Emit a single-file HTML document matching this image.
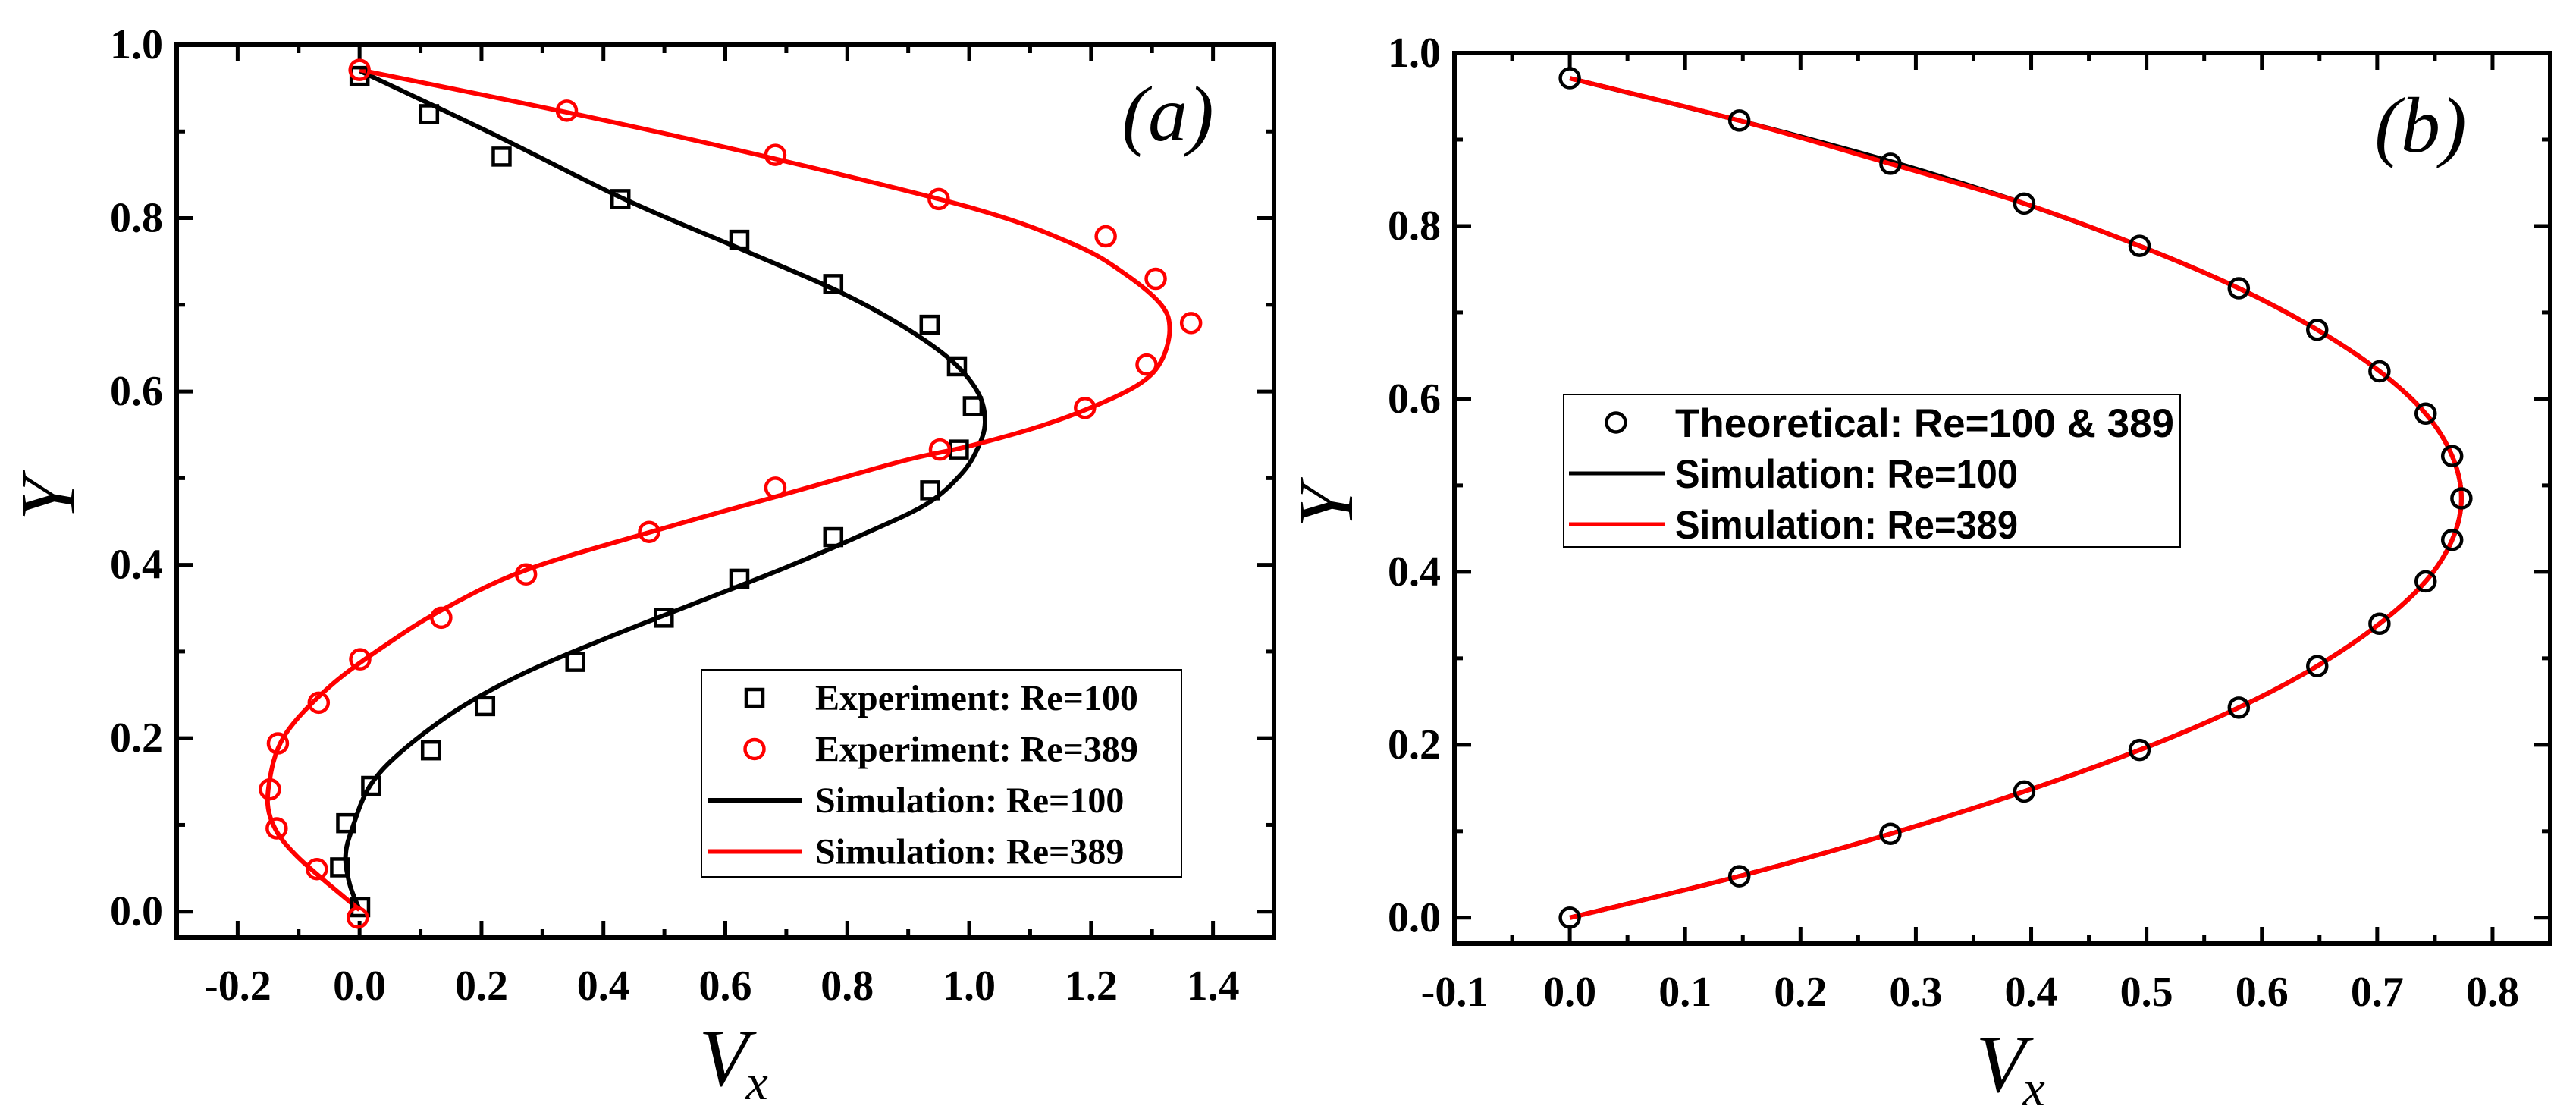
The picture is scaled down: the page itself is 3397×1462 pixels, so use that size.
<!DOCTYPE html>
<html><head><meta charset="utf-8"><style>
html,body{margin:0;padding:0;background:#fff;}
svg{display:block;}
text{font-family:"Liberation Serif",serif;}
text.sans{font-family:"Liberation Sans",sans-serif;}
</style></head>
<body>
<svg id="fig" xmlns="http://www.w3.org/2000/svg" width="3397" height="1462" viewBox="0 0 3397 1462">
<rect x="0" y="0" width="3397" height="1462" fill="#fff"/>
<g id="pa"></g>
<g id="pb"></g>
</svg>
<script>
// ---- Panel (a) data ----
const aExp100X=[0,0.114,0.233,0.428,0.623,0.777,0.935,0.98,1.006,0.983,0.936,0.777,0.623,0.499,0.354,0.206,0.117,0.019,-0.022,-0.032,0.001];
const aExp100Y=[0.964,0.92,0.871,0.822,0.775,0.724,0.677,0.629,0.583,0.533,0.486,0.432,0.384,0.339,0.288,0.237,0.186,0.145,0.102,0.051,0.005];
const aExp389X=[0,0.34,0.682,0.95,1.224,1.306,1.364,1.291,1.19,0.952,0.682,0.475,0.273,0.134,0.001,-0.067,-0.134,-0.147,-0.136,-0.07,-0.003];
const aExp389Y=[0.971,0.924,0.873,0.822,0.779,0.73,0.679,0.631,0.581,0.533,0.489,0.438,0.389,0.339,0.291,0.241,0.194,0.141,0.096,0.049,-0.007];
const aSim100X=[0,0.219,0.434,0.623,0.784,0.892,0.972,1.015,1.026,1.013,0.986,0.932,0.838,0.703,0.555,0.407,0.273,0.165,0.071,0.017,-0.012,-0.023,-0.016,0];
const aSim100Y=[0.97,0.897,0.822,0.765,0.716,0.675,0.635,0.598,0.564,0.533,0.504,0.471,0.439,0.398,0.357,0.316,0.276,0.235,0.186,0.145,0.096,0.064,0.031,0.002];
const aSim389X=[0,0.354,0.69,1.013,1.174,1.255,1.315,1.329,1.315,1.282,1.215,1.121,1.0,0.892,0.69,0.488,0.273,0.138,0.044,-0.05,-0.124,-0.149,-0.144,-0.103,0];
const aSim389Y=[0.971,0.92,0.867,0.81,0.769,0.736,0.7,0.671,0.635,0.61,0.586,0.561,0.537,0.52,0.48,0.44,0.394,0.349,0.308,0.259,0.202,0.145,0.104,0.064,0.002];
const aXTicks=["-0.2","0.0","0.2","0.4","0.6","0.8","1.0","1.2","1.4"];
const aYTicks=["0.0","0.2","0.4","0.6","0.8","1.0"];
// ---- Panel (b) data ----
const bTheoX=[0,0.147,0.278,0.394,0.494,0.58,0.648,0.702,0.742,0.765,0.773,0.765,0.742,0.702,0.648,0.58,0.494,0.394,0.278,0.147,0];
const bTheoY=[0.971,0.922,0.872,0.826,0.777,0.728,0.68,0.632,0.583,0.534,0.485,0.437,0.389,0.34,0.291,0.243,0.194,0.146,0.097,0.048,0];
const bSim100X=[0,0.147,0.28,0.394,0.494,0.58,0.648,0.702,0.742,0.765,0.773,0.765,0.742,0.702,0.648,0.58,0.494,0.394,0.278,0.147,0];
const bSim100Y=[0.971,0.922,0.874,0.826,0.777,0.728,0.68,0.632,0.583,0.534,0.485,0.437,0.389,0.34,0.291,0.243,0.194,0.146,0.097,0.048,0];
const bSim389X=[0,0.147,0.278,0.394,0.494,0.58,0.648,0.702,0.742,0.765,0.773,0.765,0.742,0.702,0.648,0.58,0.494,0.394,0.278,0.147,0];
const bSim389Y=[0.971,0.922,0.872,0.826,0.777,0.728,0.68,0.632,0.583,0.534,0.485,0.437,0.389,0.34,0.291,0.243,0.194,0.146,0.097,0.048,0];
const bXTicks=["-0.1","0.0","0.1","0.2","0.3","0.4","0.5","0.6","0.7","0.8"];
const bYTicks=["0.0","0.2","0.4","0.6","0.8","1.0"];

const NS="http://www.w3.org/2000/svg";
function mk(parent,tag,attrs){const e=document.createElementNS(NS,tag);for(const k in attrs)e.setAttribute(k,attrs[k]);parent.appendChild(e);return e;}

function axes(g,cfg){
  const sx=v=>cfg.L+(v-cfg.xmin)/(cfg.xmax-cfg.xmin)*(cfg.R-cfg.L);
  const sy=v=>cfg.B-(v-cfg.ymin)/(cfg.ymax-cfg.ymin)*(cfg.B-cfg.T);
  const tg=mk(g,'g',{stroke:'#000','stroke-width':5});
  
  
  const xs=cfg.xStep/2;
  for(let v=cfg.xFirst-xs;v<=cfg.xmax+1e-9;v+=xs){
    if(v<cfg.xmin-1e-9)continue;
    const major=Math.abs(Math.round((v-cfg.xFirst)/cfg.xStep)*cfg.xStep-(v-cfg.xFirst))<1e-6;
    const len=major?22:11;const x=sx(v);
    mk(tg,'line',{x1:x,y1:cfg.B,x2:x,y2:cfg.B-len});
    mk(tg,'line',{x1:x,y1:cfg.T,x2:x,y2:cfg.T+len});
  }
  for(let v=0;v<=cfg.ymax+1e-9;v+=0.1){
    const major=Math.round(v*10)%2===0;const len=major?22:11;const y=sy(v);
    mk(tg,'line',{x1:cfg.L,y1:y,x2:cfg.L+len,y2:y});
    mk(tg,'line',{x1:cfg.R,y1:y,x2:cfg.R-len,y2:y});
  }
  cfg.xTicks.forEach((t,i)=>{
    const el=mk(g,'text',{x:sx(parseFloat(t)),y:cfg.B+82,'text-anchor':'middle','font-size':56,'font-weight':'bold'});
    
    
    el.textContent=t;
  });
  cfg.yTicks.forEach((t,i)=>{
    const el=mk(g,'text',{x:cfg.L-18,y:sy(parseFloat(t))+18,'text-anchor':'end','font-size':56,'font-weight':'bold'});
    
    
    el.textContent=t;
  });
  const fr=mk(g,'rect',{x:cfg.L,y:cfg.T,width:cfg.R-cfg.L,height:cfg.B-cfg.T,fill:'none',stroke:'#000','stroke-width':6});
  
  
  const yt=mk(g,'text',{x:0,y:0,'font-size':104,'font-style':'italic','text-anchor':'middle',transform:`translate(${cfg.L-135},${(cfg.T+cfg.B)/2+10}) rotate(-90)`});
  
  
  yt.textContent='Y';
  const xt=mk(g,'text',{x:(cfg.L+cfg.R)/2-35,y:cfg.B+195,'font-size':108,'font-style':'italic'});
  
  
  xt.textContent='V';
  const sub=mk(xt,'tspan',{'font-size':66,dy:18,dx:-4});
  sub.textContent='x';
  const pl=mk(g,'text',{x:cfg.labX,y:cfg.labY,'font-size':104,'font-style':'italic','text-anchor':'middle'});
  
  
  pl.textContent=cfg.lab;
  return {sx,sy};
}
function line(g,X,Y,sx,sy,color,name){
  const P=X.map((x,i)=>[sx(x),sy(Y[i])]);
  let d='M'+P[0][0].toFixed(1)+' '+P[0][1].toFixed(1);
  for(let i=0;i<P.length-1;i++){
    const p0=P[i-1]||P[i],p1=P[i],p2=P[i+1],p3=P[i+2]||P[i+1];
    const c1=[p1[0]+(p2[0]-p0[0])/6,p1[1]+(p2[1]-p0[1])/6];
    const c2=[p2[0]-(p3[0]-p1[0])/6,p2[1]-(p3[1]-p1[1])/6];
    d+=` C${c1[0].toFixed(1)} ${c1[1].toFixed(1)} ${c2[0].toFixed(1)} ${c2[1].toFixed(1)} ${p2[0].toFixed(1)} ${p2[1].toFixed(1)}`;
  }
  const p=mk(g,'path',{d,fill:'none',stroke:color,'stroke-width':6,'stroke-linejoin':'round'});
  
  
}
function squares(g,X,Y,sx,sy,name){
  X.forEach((x,i)=>{const r=mk(g,'rect',{x:sx(x)-11,y:sy(Y[i])-11,width:22,height:22,fill:'none',stroke:'#000','stroke-width':4.5});
    
    });
}
function circles(g,X,Y,sx,sy,color,name){
  X.forEach((x,i)=>{const c=mk(g,'circle',{cx:sx(x),cy:sy(Y[i]),r:12.5,fill:'none',stroke:color,'stroke-width':4.5});
    
    });
}

// Panel a
const ga=document.getElementById('pa');
const A=axes(ga,{L:233,R:1680,T:59,B:1236,xmin:-0.3,xmax:1.5,ymin:-0.03,ymax:1.0,xFirst:-0.2,xStep:0.2,xTicks:aXTicks,yTicks:aYTicks,lab:'(a)',labX:1540,labY:185});
line(ga,aSim100X,aSim100Y,A.sx,A.sy,'#000','sim-re100-line');
line(ga,aSim389X,aSim389Y,A.sx,A.sy,'#f00','sim-re389-line');
squares(ga,aExp100X,aExp100Y,A.sx,A.sy,'exp-re100-marker');
circles(ga,aExp389X,aExp389Y,A.sx,A.sy,'#f00','exp-re389-marker');
const la=mk(ga,'g',{});


mk(la,'rect',{x:925,y:883,width:633,height:273,fill:'#fff',stroke:'#000','stroke-width':2});
const laRows=[['sq','Experiment: Re=100'],['ci','Experiment: Re=389'],['lk','Simulation: Re=100'],['lr','Simulation: Re=389']];
laRows.forEach((r,i)=>{
  const y=920+i*67.5;
  if(r[0]==='sq')mk(la,'rect',{x:984,y:y-11,width:22,height:22,fill:'none',stroke:'#000','stroke-width':4.5});
  if(r[0]==='ci')mk(la,'circle',{cx:995,cy:y,r:12.5,fill:'none',stroke:'#f00','stroke-width':4.5});
  if(r[0]==='lk')mk(la,'line',{x1:934,y1:y,x2:1057,y2:y,stroke:'#000','stroke-width':6});
  if(r[0]==='lr')mk(la,'line',{x1:934,y1:y,x2:1057,y2:y,stroke:'#f00','stroke-width':6});
  const t=mk(la,'text',{x:1075,y:y+16,'font-size':48,'font-weight':'bold'});
  
  
  t.textContent=r[1];
});

// Panel b
const gb=document.getElementById('pb');
const B=axes(gb,{L:1918,R:3363,T:70,B:1244,xmin:-0.1,xmax:0.85,ymin:-0.03,ymax:1.0,xFirst:-0.1,xStep:0.1,xTicks:bXTicks,yTicks:bYTicks,lab:'(b)',labX:3192,labY:200});
line(gb,bSim100X,bSim100Y,B.sx,B.sy,'#000','sim-re100-line');
line(gb,bSim389X,bSim389Y,B.sx,B.sy,'#f00','sim-re389-line');
circles(gb,bTheoX,bTheoY,B.sx,B.sy,'#000','theoretical-marker');
const lb=mk(gb,'g',{});


mk(lb,'rect',{x:2062,y:520,width:813,height:201,fill:'#fff',stroke:'#000','stroke-width':2});
const lbRows=[['ci','Theoretical: Re=100 & 389'],['lk','Simulation: Re=100'],['lr','Simulation: Re=389']];
lbRows.forEach((r,i)=>{
  const y=557+i*67;
  if(r[0]==='ci')mk(lb,'circle',{cx:2131,cy:y,r:12.5,fill:'none',stroke:'#000','stroke-width':4.5});
  if(r[0]==='lk')mk(lb,'line',{x1:2069,y1:y,x2:2195,y2:y,stroke:'#000','stroke-width':5});
  if(r[0]==='lr')mk(lb,'line',{x1:2069,y1:y,x2:2195,y2:y,stroke:'#f00','stroke-width':5});
  const t=mk(lb,'text',{x:2209,y:y+19,'font-size':53,'font-weight':'bold','class':'sans','style':'font-family:"Liberation Sans",sans-serif','textLength':r[0]==='ci'?658:452,'lengthAdjust':'spacingAndGlyphs'});
  
  
  t.textContent=r[1];
});
</script>
</body></html>
